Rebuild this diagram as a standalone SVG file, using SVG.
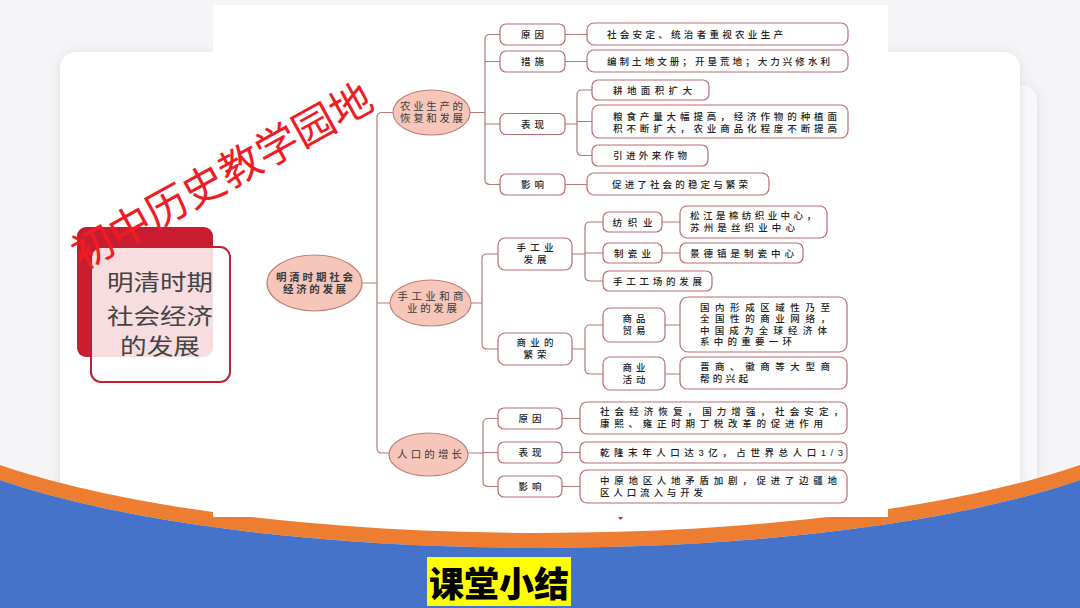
<svg xmlns="http://www.w3.org/2000/svg" width="1080" height="608" viewBox="0 0 1080 608">
<defs>
<filter id="sh" x="-5%" y="-5%" width="110%" height="115%">
<feDropShadow dx="0" dy="2" stdDeviation="6" flood-color="#8a90a0" flood-opacity="0.25"/>
</filter>
<style>
.box{fill:#fff;stroke:#b86d74;stroke-width:1.2}
.ell{fill:#f6c6bb;stroke:#c0807a;stroke-width:1.2}
.ln{fill:none;stroke:#b07a78;stroke-width:1.2}
.t{font-family:"Liberation Sans","Noto Sans CJK SC",sans-serif;font-size:9.5px;font-weight:500;fill:#222}
.m{text-anchor:middle}
.e{font-family:"Liberation Sans","Noto Sans CJK SC",sans-serif;font-size:10.5px;fill:#3a3a3a;text-anchor:middle}
</style>
</defs>
<rect x="0" y="0" width="1080" height="608" fill="#f5f5f7"/>
<rect x="100" y="85" width="937" height="460" rx="15" fill="#f9f9fb" filter="url(#sh)"/>
<rect x="60" y="52" width="960" height="490" rx="16" fill="#ffffff" filter="url(#sh)"/>
<path d="M0,465 A660,160 0 0 0 1080,465 L1080,480 A660,160 0 0 1 0,480 Z" fill="#ed7d31"/>
<path d="M0,480 A660,160 0 0 0 1080,480 L1080,608 L0,608 Z" fill="#4573c9"/>
<rect x="213" y="5" width="675" height="512" fill="#ffffff"/>

<g id="title">
<rect x="77" y="227" width="136" height="130" rx="9" fill="#c81d31"/>
<rect x="91" y="247" width="139" height="135" rx="10" fill="#ffffff" fill-opacity="0.85" stroke="#c01f30" stroke-width="2"/>
<g font-family="'Noto Sans CJK SC',sans-serif" font-size="22" fill="#444" text-anchor="middle">
<text x="160" y="290" textLength="106" lengthAdjust="spacingAndGlyphs">明清时期</text>
<text x="160" y="324" textLength="106" lengthAdjust="spacingAndGlyphs">社会经济</text>
<text x="160" y="354" textLength="80" lengthAdjust="spacingAndGlyphs">的发展</text>
</g>
</g>

<g id="connectors">
<path class="ln" d="M362,283 H377 M393,112.5 H382 Q377,112.5 377,117.5 V448 Q377,453 382,453 H389 M377,303 H390"/>
<path class="ln" d="M470,112.5 H485 M500,34.5 H490 Q485,34.5 485,39.5 V179.5 Q485,184.5 490,184.5 H500 M485,61.5 H500 M485,124 H500"/>
<path class="ln" d="M565,34.5 H587 M565,61.5 H587 M565,124 H577 M592,90 H582 Q577,90 577,95 V150.5 Q577,155.5 582,155.5 H592 M577,121.5 H592 M565,184.5 H587"/>
<path class="ln" d="M471,303 H482 M498,254 H487 Q482,254 482,259 V344 Q482,349 487,349 H498"/>
<path class="ln" d="M572,254 H585 M603,222 H590 Q585,222 585,227 V276 Q585,281 590,281 H603 M585,253 H603"/>
<path class="ln" d="M572,349 H585 M603,325 H590 Q585,325 585,330 V369 Q585,374 590,374 H603"/>
<path class="ln" d="M662,222 H680 M662,253 H680 M665,325 H680 M665,374 H680"/>
<path class="ln" d="M468,453 H483 M498,418.5 H488 Q483,418.5 483,423.5 V481.5 Q483,486.5 488,486.5 H498 M483,452.5 H498"/>
<path class="ln" d="M562,418.5 H580 M562,452.5 H580 M562,486.5 H580"/>
</g>

<g id="root">
<ellipse class="ell" cx="314.5" cy="283" rx="47.5" ry="28"/>
<text class="e" x="314.5" y="280.5" font-weight="bold" fill="#333" textLength="77">明清时期社会</text>
<text class="e" x="314.5" y="292.5" font-weight="bold" fill="#333" textLength="63">经济的发展</text>
</g>

<g id="agri">
<ellipse class="ell" cx="431.5" cy="112.5" rx="38.5" ry="22.5"/>
<text class="e" x="431.5" y="110" textLength="63">农业生产的</text>
<text class="e" x="431.5" y="122" textLength="63">恢复和发展</text>
</g>
<g id="agri-cause"><rect class="box" x="500" y="24" width="65" height="21" rx="6"/><text class="t m" x="532.5" y="38" textLength="23">原因</text></g>
<g id="agri-measure"><rect class="box" x="500" y="51" width="65" height="21" rx="6"/><text class="t m" x="532.5" y="65" textLength="23">措施</text></g>
<g id="agri-show"><rect class="box" x="500" y="113.5" width="65" height="21" rx="6"/><text class="t m" x="532.5" y="127.5" textLength="23">表现</text></g>
<g id="agri-effect"><rect class="box" x="500" y="174" width="65" height="21" rx="6"/><text class="t m" x="532.5" y="188" textLength="23">影响</text></g>
<g id="agri-cause-d"><rect class="box" x="587" y="23" width="261" height="22" rx="7"/><text class="t" x="607" y="37.5" textLength="176">社会安定、统治者重视农业生产</text></g>
<g id="agri-measure-d"><rect class="box" x="587" y="50" width="261" height="22" rx="7"/><text class="t" x="607" y="64.5" textLength="223">编制土地文册；开垦荒地；大力兴修水利</text></g>
<g id="agri-s1"><rect class="box" x="592" y="80" width="117" height="20" rx="6"/><text class="t" x="613" y="93.5" textLength="79">耕地面积扩大</text></g>
<g id="agri-s2"><rect class="box" x="592" y="105" width="256" height="33" rx="7"/><text class="t" x="613" y="119.5" textLength="224">粮食产量大幅提高，经济作物的种植面</text><text class="t" x="613" y="131.5" textLength="224">积不断扩大，农业商品化程度不断提高</text></g>
<g id="agri-s3"><rect class="box" x="592" y="145" width="116" height="21" rx="6"/><text class="t" x="613" y="159" textLength="74">引进外来作物</text></g>
<g id="agri-effect-d"><rect class="box" x="587" y="173" width="182" height="22" rx="7"/><text class="t" x="612" y="187.5" textLength="136">促进了社会的稳定与繁荣</text></g>

<g id="hc">
<ellipse class="ell" cx="430.5" cy="303" rx="40.5" ry="23"/>
<text class="e" x="430.5" y="300" textLength="66">手工业和商</text>
<text class="e" x="432" y="312" textLength="50">业的发展</text>
</g>
<g id="handicraft"><rect class="box" x="498" y="238" width="74" height="32" rx="7"/><text class="t m" x="535" y="251" textLength="37">手工业</text><text class="t m" x="535" y="263" textLength="23">发展</text></g>
<g id="commerce"><rect class="box" x="498" y="333" width="74" height="32" rx="7"/><text class="t m" x="535" y="346" textLength="37">商业的</text><text class="t m" x="535" y="358" textLength="23">繁荣</text></g>
<g id="textile"><rect class="box" x="603" y="212" width="59" height="20" rx="6"/><text class="t m" x="632.5" y="225.5" textLength="40">纺织业</text></g>
<g id="porcelain"><rect class="box" x="603" y="243" width="59" height="20" rx="6"/><text class="t m" x="632.5" y="256.5" textLength="37">制瓷业</text></g>
<g id="workshop"><rect class="box" x="603" y="271" width="109" height="20" rx="6"/><text class="t" x="613" y="284.5" textLength="89">手工工场的发展</text></g>
<g id="trade"><rect class="box" x="603" y="308" width="62" height="34" rx="7"/><text class="t m" x="634" y="322" textLength="23">商品</text><text class="t m" x="634" y="334" textLength="23">贸易</text></g>
<g id="activity"><rect class="box" x="603" y="357" width="62" height="33" rx="7"/><text class="t m" x="634" y="370.5" textLength="23">商业</text><text class="t m" x="634" y="382.5" textLength="23">活动</text></g>
<g id="textile-d"><rect class="box" x="680" y="206" width="147" height="32" rx="7"/><text class="t" x="690" y="219" textLength="126">松江是棉纺织业中心，</text><text class="t" x="690" y="231" textLength="105">苏州是丝织业中心</text></g>
<g id="porcelain-d"><rect class="box" x="680" y="243" width="123" height="20" rx="6"/><text class="t" x="690" y="256.5" textLength="104">景德镇是制瓷中心</text></g>
<g id="trade-d"><rect class="box" x="680" y="297" width="167" height="55" rx="8"/><text class="t" x="700" y="310.5" textLength="130">国内形成区域性乃至</text><text class="t" x="700" y="322" textLength="130">全国性的商业网络，</text><text class="t" x="700" y="333.5" textLength="127">中国成为全球经济体</text><text class="t" x="700" y="345" textLength="92">系中的重要一环</text></g>
<g id="activity-d"><rect class="box" x="680" y="357" width="167" height="32" rx="7"/><text class="t" x="700" y="370" textLength="130">晋商、徽商等大型商</text><text class="t" x="700" y="382" textLength="48">帮的兴起</text></g>

<g id="pop">
<ellipse class="ell" cx="428.5" cy="454.5" rx="39.5" ry="21.5"/>
<text class="e" x="429.5" y="457.5" textLength="65">人口的增长</text>
</g>
<g id="pop-cause"><rect class="box" x="498" y="408" width="64" height="21" rx="6"/><text class="t m" x="530" y="422" textLength="23">原因</text></g>
<g id="pop-show"><rect class="box" x="498" y="442" width="64" height="21" rx="6"/><text class="t m" x="530" y="456" textLength="23">表现</text></g>
<g id="pop-effect"><rect class="box" x="498" y="476" width="64" height="21" rx="6"/><text class="t m" x="530" y="490" textLength="23">影响</text></g>
<g id="pop-cause-d"><rect class="box" x="580" y="402" width="267" height="32" rx="7"/><text class="t" x="600" y="415" textLength="243">社会经济恢复，国力增强，社会安定，</text><text class="t" x="600" y="427" textLength="223">康熙、雍正时期丁税改革的促进作用</text></g>
<g id="pop-show-d"><rect class="box" x="580" y="442" width="267" height="21" rx="6"/><text class="t" x="600" y="456" textLength="243">乾隆末年人口达3亿，占世界总人口1/3</text></g>
<g id="pop-effect-d"><rect class="box" x="580" y="470" width="267" height="33" rx="7"/><text class="t" x="600" y="483.5" textLength="237">中原地区人地矛盾加剧，促进了边疆地</text><text class="t" x="600" y="495.5" textLength="103">区人口流入与开发</text></g>
<path d="M618,517 L623,517 L620.5,520 Z" fill="#e02020"/>

<g id="watermark">
<text transform="translate(222,176) rotate(-29)" x="0" y="15" font-family="'Noto Sans CJK SC',sans-serif" font-size="42" fill="#f01c24" text-anchor="middle">初中历史教学园地</text>
</g>

<g id="summary">
<rect x="427" y="557" width="144" height="49" fill="#ffff00"/>
<text x="499" y="597" font-family="'Noto Sans CJK SC',sans-serif" font-size="35" font-weight="900" fill="#000" text-anchor="middle">课堂小结</text>
</g>
</svg>
